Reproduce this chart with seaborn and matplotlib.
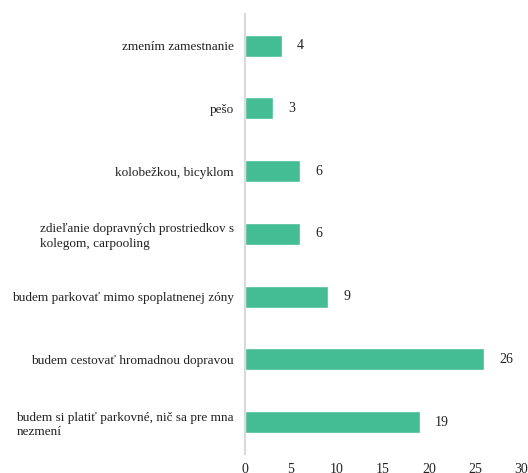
import matplotlib
matplotlib.use("Agg")
import matplotlib.pyplot as plt
import seaborn as sns
import pandas as pd

categories = [
    "zmením zamestnanie",
    "pešo",
    "kolobežkou, bicyklom",
    "zdieľanie dopravných prostriedkov s\nkolegom, carpooling",
    "budem parkovať mimo spoplatnenej zóny",
    "budem cestovať hromadnou dopravou",
    "budem si platiť parkovné, nič sa pre mna\nnezmení",
]
counts = [4, 3, 6, 6, 9, 26, 19]
x_ticks = [0, 5, 10, 15, 20, 25, 30]

df = pd.DataFrame({"label": categories, "count": counts})

sns.set_theme(style="white")
plt.rcParams["font.family"] = ["Liberation Serif", "DejaVu Serif"]

fig = plt.figure(figsize=(5.28, 4.73), dpi=100)
ax = fig.add_axes([0.464, 0.041, 0.523, 0.929])

sns.barplot(data=df, x="count", y="label", color="#44BC94", width=0.35,
            saturation=1, ax=ax, orient="h")

for c in ax.containers:
    ax.bar_label(c, padding=11, fontsize=10, color="#222222")

ax.set_xlim(0, 30)
ax.set_xticks(x_ticks)
ax.set_xlabel("")
ax.set_ylabel("")
ax.set_ylim(len(categories) - 0.5, -0.5)

for lbl in ax.get_yticklabels():
    lbl.set_multialignment("left")
    lbl.set_linespacing(1.25)

ax.tick_params(axis="y", length=0, pad=8, labelsize=9.5, labelcolor="#222222")
ax.tick_params(axis="x", length=0, pad=7, labelsize=10, labelcolor="#222222")

sns.despine(ax=ax, top=True, right=True, bottom=True, left=False)
ax.spines["left"].set_color("#D9D9D9")
ax.spines["left"].set_linewidth(1.5)

plt.savefig("out.png", dpi=100)
